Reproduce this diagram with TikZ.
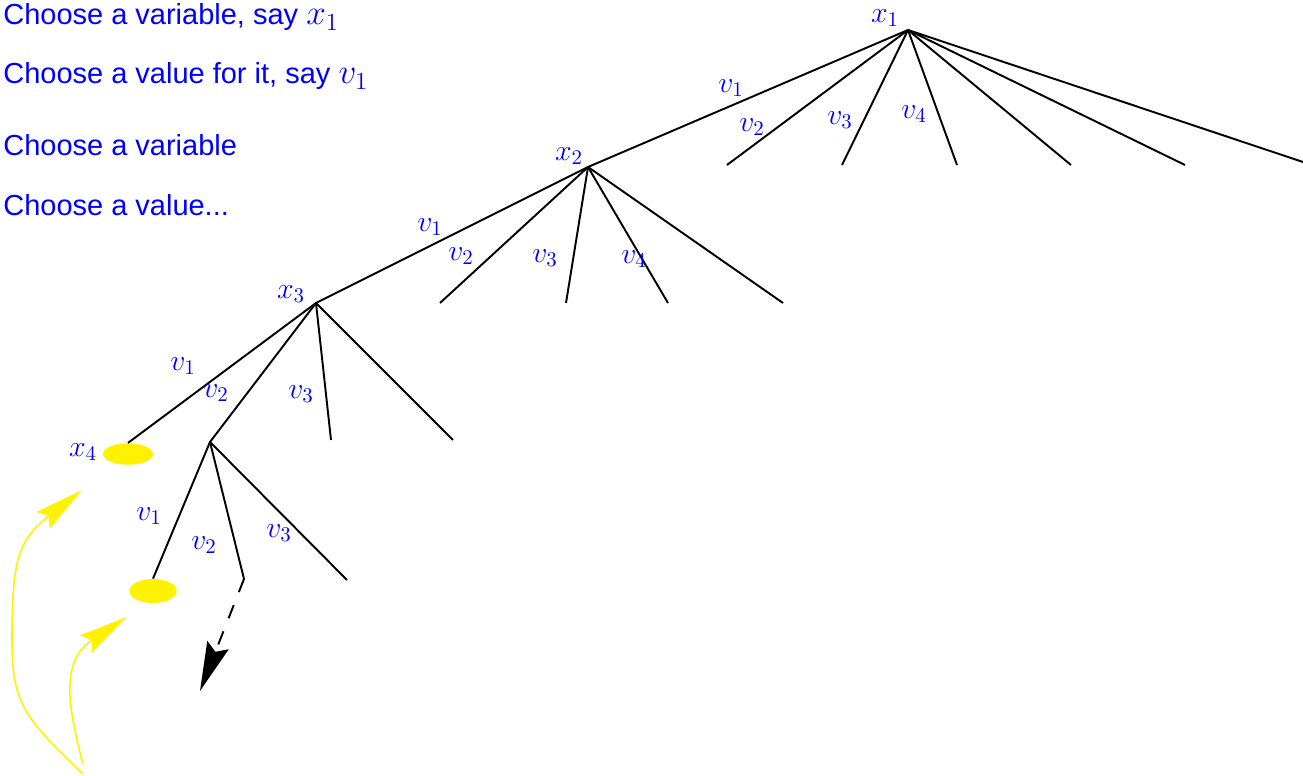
\RequirePackage{fix-cm}
\documentclass[tikz,border=0pt]{standalone}
\usepackage{fontspec}
\newfontfamily\helv{Liberation Sans}
\newcommand{\saymath}[1]{{\fontsize{20}{24}\selectfont$#1$}}
\usetikzlibrary{positioning, arrows.meta, shapes.geometric}

\begin{document}
\begin{tikzpicture}[x=0.02cm, y=-0.02cm]
\tikzset{
	branch/.style={line width=1.1pt},
	lab/.style={text=blue, inner sep=0pt, font=\fontsize{17}{19}\selectfont},
	say/.style={text=blue, anchor=base west, inner sep=0pt, font=\helv\fontsize{16.5}{20}\selectfont},
	goal/.style={ellipse, fill=yellow, inner sep=0pt},
	back/.style={yellow, line width=0.9pt, -{Stealth[length=28pt, width=12pt, inset=4pt]}}
}
% the steps
\node[say] (t1) at (3,25) {Choose a variable, say \saymath{x_1}};
\node[say] (t2) at (3,84) {Choose a value for it, say \saymath{v_1}};
\node[say] (t3) at (3,156) {Choose a variable};
\node[say] (t4) at (3,216) {Choose a value...};

% search tree
\coordinate (x1) at (908,30);
\coordinate (x2) at (588,167);
\coordinate (x3) at (316,303);
\coordinate (n4) at (210,442);
\node[goal, minimum width=1cm, minimum height=0.43cm] (x4) at (128,454) {};
\node[goal, minimum width=0.95cm, minimum height=0.48cm] (g5) at (153,591) {};

\draw[branch] (x1) -- (x2) -- (x3) -- (x4.north);
\draw[branch] (x3) -- (n4) -- (g5.north);
\foreach \i/\x/\y in {2/727/165, 3/842/165, 4/957/165, 5/1071/165, 6/1185/165, 7/1303/162} {
	\coordinate (a\i) at (\x,\y);
	\draw[branch] (x1) -- (a\i);
}
\foreach \i/\x in {2/440, 3/566, 4/668, 5/783} {
	\coordinate (b\i) at (\x,303);
	\draw[branch] (x2) -- (b\i);
}
\foreach \i/\x in {3/331, 4/453} {
	\coordinate (c\i) at (\x,440);
	\draw[branch] (x3) -- (c\i);
}
\coordinate (d2) at (244,579);
\coordinate (d3) at (347,580);
\coordinate (dn) at (200,691);
\draw[branch] (n4) -- (d2);
\draw[branch] (n4) -- (d3);
\draw[branch, dash pattern=on 8pt off 8pt, -{Stealth[length=28pt, width=13pt, inset=4pt]}] (d2) -- (dn);

% labels
\foreach \n/\x/\y/\t in {lx1/885/18/x_1, la1/731/88/v_1, la2/752/127/v_2, la3/840/120/v_3, la4/914/114/v_4,
	lx2/569/156/x_2, lb1/430/227/v_1, lb2/461/256/v_2, lb3/545/258/v_3, lb4/634/259/v_4,
	lx3/291/294/x_3, lc1/183/366/v_1, lc2/216/393/v_2, lc3/301/394/v_3,
	lx4/83/452/x_4, ld1/149/516/v_1, ld2/204/545/v_2, ld3/279/533/v_3}
	\node[lab] (\n) at (\x,\y) {$\t$};

% backtracking
\coordinate (s1) at (83,774);
\coordinate (e1) at (82,490);
\coordinate (s2) at (83,764);
\coordinate (e2) at (127,617);
\draw[back] (s1) .. controls (25,718) and (12,705) .. (12,640) .. controls (12,560) and (18,540) .. (e1);
\draw[back] (s2) .. controls (66,700) and (62,660) .. (e2);

\pgfresetboundingbox
\useasboundingbox (0,0) rectangle (1303,776);
\end{tikzpicture}
\end{document}
